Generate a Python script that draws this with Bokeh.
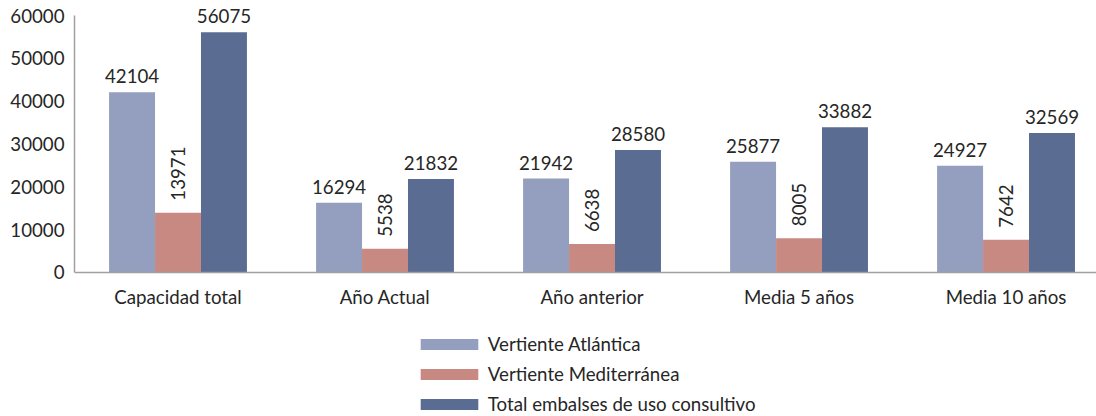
import numpy as np
from bokeh.plotting import figure
from bokeh.models import ColumnDataSource, Range1d, FixedTicker, NumeralTickFormatter, Legend, LegendItem
from bokeh.core.properties import value
from bokeh.embed import file_html
from bokeh.resources import INLINE

categories = ["Capacidad total", "Año Actual", "Año anterior", "Media 5 años", "Media 10 años"]
atlantica = [42104, 16294, 21942, 25877, 24927]
mediterranea = [13971, 5538, 6638, 8005, 7642]
total = [56075, 21832, 28580, 33882, 32569]
series_names = ["Vertiente Atlántica", "Vertiente Mediterránea", "Total embalses de uso consultivo"]
y_ticks = [0, 10000, 20000, 30000, 40000, 50000, 60000]

colors = ["#949EBE", "#C88982", "#5A6C92"]
FONT = "Lato"
TXT = "#262626"
FS = "18.7px"

x = np.arange(len(categories))
bw = 0.222
offsets = [-bw, 0.0, bw]

# frame spans the whole figure height; the x axis is pinned at y = 0 and the
# y axis line is bounded to 0..60000
p = figure(width=1096, height=416, output_backend="svg", toolbar_location=None,
           x_range=Range1d(-0.5, 4.437), y_range=Range1d(-33619, 63502),
           min_border_left=74, min_border_right=0, min_border_top=0, min_border_bottom=0)
p.outline_line_color = None
p.grid.visible = False

renderers = []
for vals, off, col in zip([atlantica, mediterranea, total], offsets, colors):
    src = ColumnDataSource(dict(x=x + off, top=vals, label=[str(v) for v in vals]))
    r = p.vbar(x="x", top="top", width=bw, source=src, fill_color=col, line_color=None)
    renderers.append(r)
    if off == 0.0:
        p.text(x="x", y="top", text="label", source=src, angle=np.pi / 2,
               text_align="left", text_baseline="middle", y_offset=-12,
               text_font=value(FONT), text_font_size=FS, text_color=TXT)
    else:
        p.text(x="x", y="top", text="label", source=src,
               text_align="center", text_baseline="bottom", y_offset=-9,
               text_font=value(FONT), text_font_size=FS, text_color=TXT)

p.yaxis.ticker = FixedTicker(ticks=y_ticks)
p.yaxis.formatter = NumeralTickFormatter(format="0")
p.yaxis.bounds = (0, 60000)
p.xaxis.ticker = FixedTicker(ticks=list(x))
p.xaxis.major_label_overrides = {int(i): c for i, c in zip(x, categories)}
p.xaxis.fixed_location = 0
for ax in (p.xaxis, p.yaxis):
    ax.axis_line_color = "#A0A0A0"
    ax.axis_line_width = 1.5
    ax.major_tick_line_color = None
    ax.minor_tick_line_color = None
    ax.major_tick_out = 0
    ax.major_tick_in = 0
    ax.minor_tick_out = 0
    ax.major_label_text_font = FONT
    ax.major_label_text_font_size = FS
    ax.major_label_text_color = TXT
p.yaxis.major_label_standoff = 10
p.xaxis.major_label_standoff = 14

legend = Legend(items=[LegendItem(label=n, renderers=[r]) for n, r in zip(series_names, renderers)],
                location=(338.8, 1.5), orientation="vertical",
                glyph_width=72, glyph_height=14, label_height=20, spacing=8,
                label_standoff=3, padding=0, margin=0, border_line_color=None,
                background_fill_alpha=0,
                label_text_font=FONT, label_text_font_size=FS, label_text_color=TXT)
p.add_layout(legend, "center")

open("out.html", "w").write(file_html(p, INLINE))
